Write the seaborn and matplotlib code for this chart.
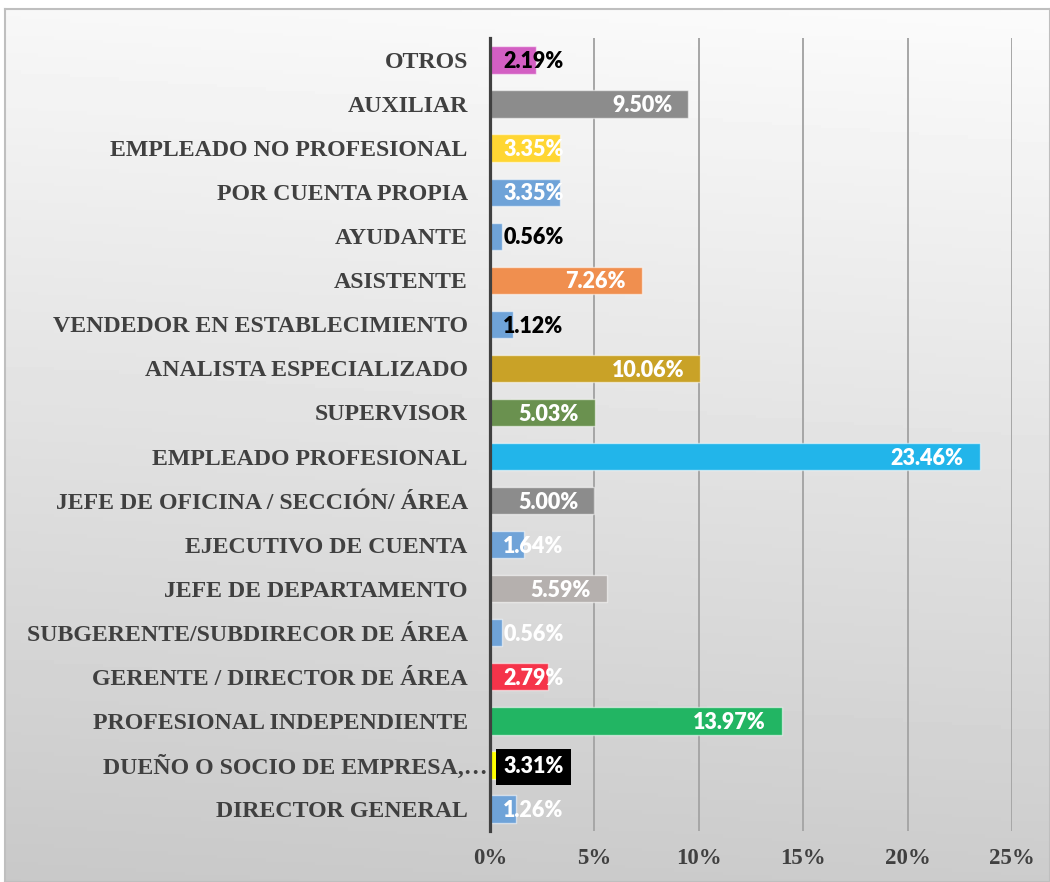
import numpy as np
import pandas as pd
import matplotlib.pyplot as plt
import seaborn as sns
from matplotlib.transforms import ScaledTranslation

# data, top to bottom as in the chart
categories = [
    'OTROS', 'AUXILIAR', 'EMPLEADO NO PROFESIONAL', 'POR CUENTA PROPIA',
    'AYUDANTE', 'ASISTENTE', 'VENDEDOR EN ESTABLECIMIENTO',
    'ANALISTA ESPECIALIZADO', 'SUPERVISOR', 'EMPLEADO PROFESIONAL',
    'JEFE DE OFICINA / SECCIÓN/ ÁREA', 'EJECUTIVO DE CUENTA',
    'JEFE DE DEPARTAMENTO', 'SUBGERENTE/SUBDIRECOR DE ÁREA',
    'GERENTE / DIRECTOR DE ÁREA', 'PROFESIONAL INDEPENDIENTE',
    'DUEÑO O SOCIO DE EMPRESA,…', 'DIRECTOR GENERAL',
]
values = [2.19, 9.50, 3.35, 3.35, 0.56, 7.26, 1.12, 10.06, 5.03, 23.46,
          5.00, 1.64, 5.59, 0.56, 2.79, 13.97, 3.31, 1.26]
bar_colors = ['#d35fc3', '#8c8c8c', '#ffd633', '#6fa3d8', '#6fa3d8', '#f08f4f',
              '#6fa3d8', '#c9a227', '#6a914f', '#22b5ea', '#8c8c8c', '#6fa3d8',
              '#b5b0ae', '#6fa3d8', '#f5344a', '#22b563', '#ffff00', '#6fa3d8']
label_colors = ['black', 'white', 'white', 'white', 'black', 'white', 'black',
                'white', 'white', 'white', 'white', 'white', 'white', 'white',
                'white', 'white', 'white', 'white']
xticks = [0, 5, 10, 15, 20, 25]

df = pd.DataFrame({'puesto': categories, 'pct': values})

sns.set_style('white')
fig = plt.figure(figsize=(10.5, 8.82), dpi=100)

# grey gradient panel behind the chart
bg = fig.add_axes([5 / 1050, 0, 1 - 5 / 1050, 1 - 9 / 882], zorder=0)
grad = np.linspace(0.985, 0.80, 256)[:, None] - np.linspace(0.015, 0, 64)[None, :]
bg.imshow(grad, cmap='gray', vmin=0, vmax=1, aspect='auto', extent=[0, 1, 0, 1])
bg.set_xticks([])
bg.set_yticks([])
for s in bg.spines.values():
    s.set_color('#bfbfbf')
    s.set_linewidth(1.5)

ax = fig.add_axes([490 / 1050, 1 - 831 / 882, 522 / 1050, 793 / 882], zorder=1)
ax.set_facecolor('none')
sns.barplot(data=df, x='pct', y='puesto', hue='puesto', palette=bar_colors,
            legend=False, width=0.62, orient='h', ax=ax, saturation=1,
            edgecolor=(1, 1, 1, 0.55), linewidth=1)

ax.set_xlim(0, 25)
ax.set_ylim(len(categories) - 0.5, -0.5)
ax.set_xticks(xticks)
ax.set_xticklabels([f'{t}%' for t in xticks])
ax.set_xlabel('')
ax.set_ylabel('')
ax.xaxis.grid(True, color='#a6a6a6', linewidth=1.4)
ax.set_axisbelow(True)
for side in ['top', 'right', 'bottom']:
    ax.spines[side].set_visible(False)
ax.spines['left'].set_color('#404040')
ax.spines['left'].set_linewidth(2.3)
ax.tick_params(axis='y', length=0, pad=16)
ax.tick_params(axis='x', length=0, pad=12)
for lab in ax.get_yticklabels() + ax.get_xticklabels():
    lab.set_fontfamily('Liberation Serif')
    lab.set_fontweight('bold')
    lab.set_color('#404040')
for lab in ax.get_yticklabels():
    lab.set_fontsize(17.2)
for lab in ax.get_xticklabels():
    lab.set_fontsize(16.5)

# the truncated label runs a bit past the others
ylabs = ax.get_yticklabels()
ylabs[16].set_transform(ylabs[16].get_transform() +
                        ScaledTranslation(20 / 100, 0, fig.dpi_scale_trans))

# data labels
for i, (v, c) in enumerate(zip(values, label_colors)):
    kw = dict(va='center', fontsize=15.5, fontweight='heavy', color=c,
              fontfamily='Lato', textcoords='offset points')
    if categories[i].startswith('DUEÑO'):
        kw['bbox'] = dict(facecolor='black', edgecolor='none', pad=5.5)
    if v > 4.3:
        ax.annotate(f'{v:.2f}%', xy=(v, i), xytext=(-11.5, -1.2), ha='right', **kw)
    else:
        ax.annotate(f'{v:.2f}%', xy=(0, i), xytext=(9.5, -1.2), ha='left', **kw)

fig.savefig('out.png', dpi=100)
